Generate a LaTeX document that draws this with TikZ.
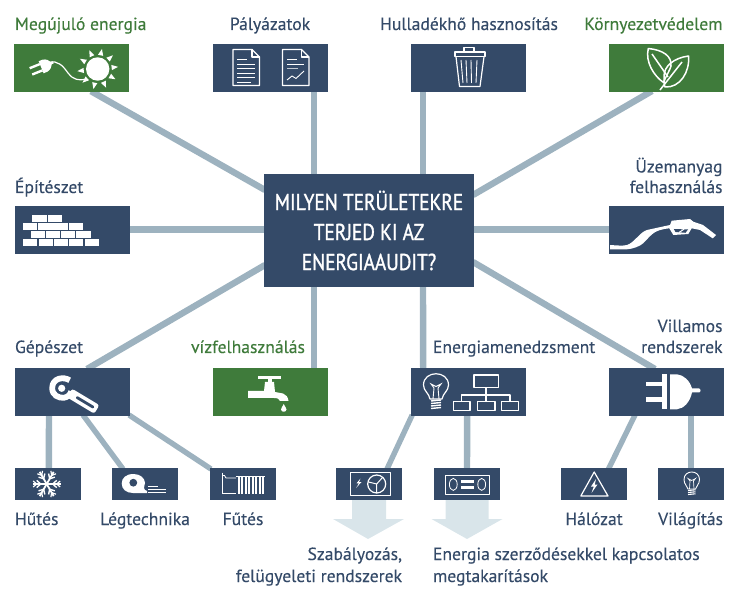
\documentclass[tikz,border=0pt]{standalone}
\usepackage{fontspec}
\setmainfont[FakeBold=0.25]{PT Sans}
\newfontfamily\hubfont[FakeStretch=0.84,FakeBold=1.3]{PT Sans}
\usetikzlibrary{calc,backgrounds}
\definecolor{navy}{HTML}{344A68}
\definecolor{leaf}{HTML}{3F7B3B}
\definecolor{linkc}{HTML}{9DB2BF}
\definecolor{pale}{HTML}{D9E5EA}
\tikzset{
  x=1pt,y=-1pt,
  tile/.style={minimum width=115,minimum height=48,inner sep=0,outer sep=0,draw=none},
  navytile/.style={tile,fill=navy},
  greentile/.style={tile,fill=leaf},
  minitile/.style={minimum width=66,minimum height=32,inner sep=0,outer sep=0,fill=navy},
  hubbox/.style={minimum width=210,minimum height=113,inner sep=0,outer sep=0,fill=navy,text=white,align=center,
    font=\hubfont\fontsize{23}{30}\selectfont},
  lab/.style={inner sep=0,outer sep=0,text=navy,font=\fontsize{17.6}{17.6}\selectfont},
  glab/.style={lab,text=leaf},
  link/.style={draw=linkc,line width=6.4},
  thinlink/.style={draw=linkc,line width=5.4},
  ico/.style={draw=white,line width=1.2,fill=none,line join=round},
  icof/.style={fill=white,draw=none},
}
\begin{document}
\begin{tikzpicture}
\useasboundingbox (0,0) rectangle (739,601);

% main tiles
\node[greentile] (mega) at (71.5,68.2) {};
\node[navytile] (palya) at (270.5,67.8) {};
\node[navytile] (hull) at (468.5,67.8) {};
\node[greentile] (korny) at (666.5,68) {};
\node[navytile] (epit) at (72.5,230.2) {};
\node[navytile] (uzem) at (666.5,230.2) {};
\node[navytile] (gep) at (72.5,392) {};
\node[greentile] (viz) at (270.5,392) {};
\node[navytile] (emen) at (468.7,392) {};
\node[navytile] (vill) at (666.5,392) {};
\node[hubbox] (hub) at (369,230.5) {MILYEN TERÜLETEKRE\\TERJED KI AZ\\ENERGIAAUDIT?};

% secondary tiles
\node[minitile] (hut) at (47.8,484) {};
\node[minitile] (leg) at (145,484) {};
\node[minitile] (fut) at (243,484) {};
\node[minitile] (szab) at (369,484) {};
\node[minitile] (szerz) at (466.5,484) {};
\node[minitile] (hal) at (593.5,484) {};
\node[minitile] (vil) at (691,484) {};

% connectors and pale arrows run behind the tiles
\begin{pgfonlayer}{background}
\draw[link] ($(mega.south west)+(77,-1)$) -- ($(hub.north west)+(1,16)$);
\draw[link] ($(palya.south west)+(101,-1)$) -- ($(hub.north west)+(50,1)$);
\draw[link] ($(hull.south west)+(12,-1)$) -- ($(hub.north west)+(159,1)$);
\draw[link] ($(korny.south west)+(43,-1)$) -- ($(hub.north east)+(-1,21)$);
\draw[link] ($(epit.east)+(-1,-.7)$) -- ($(hub.west)+(1,-1)$);
\draw[link] ($(uzem.west)+(1,-.7)$) -- ($(hub.east)+(-1,-1)$);
\draw[link] ($(gep.north west)+(72,1)$) -- ($(hub.south west)+(1,-22)$);
\draw[link] ($(viz.north west)+(101,1)$) -- ($(hub.south west)+(50,-1)$);
\draw[link] ($(emen.north west)+(12,1)$) -- ($(hub.south west)+(159,-1)$);
\draw[link] ($(vill.north west)+(46,1)$) -- ($(hub.south east)+(-1,-25)$);
\draw[link] ($(gep.south west)+(34,-1)$) -- ($(hut.north west)+(34,1)$);
\draw[thinlink] ($(gep.south west)+(68,-1)$) -- ($(leg.north west)+(11,1)$);
\draw[thinlink] ($(gep.south east)+(-1,-1)$) -- ($(fut.north west)+(1,1)$);
\draw[thinlink] ($(emen.south west)+(1,-1)$) -- ($(szab.north west)+(51,1)$);
\draw[link] ($(emen.south west)+(56,-1)$) -- ($(szerz.north west)+(33.5,1)$);
\draw[thinlink] ($(vill.south west)+(26,-1)$) -- ($(hal.north west)+(48,1)$);
\draw[link] ($(vill.south west)+(82,-1)$) -- ($(vil.north west)+(33,1)$);
\fill[pale] ($(szab.south)+(-17,-1)$) -- ($(szab.south)+(17,-1)$) -- ($(szab.south)+(17,19)$) -- ($(szab.south)+(35,19)$)
  -- ($(szab.south)+(-1,39)$) -- ($(szab.south)+(-36,19)$) -- ($(szab.south)+(-17,19)$) -- cycle;
\fill[pale] ($(szerz.south)+(-21,-1)$) -- ($(szerz.south)+(22,-1)$) -- ($(szerz.south)+(22,19)$) -- ($(szerz.south)+(36,19)$)
  -- ($(szerz.south)+(0.5,39)$) -- ($(szerz.south)+(-35,19)$) -- ($(szerz.south)+(-21,19)$) -- cycle;
\end{pgfonlayer}

% labels
\node[glab,anchor=base west] (t1) at (15,30) {Megújuló energia};
\node[lab,anchor=base] (t2) at (270,30) {Pályázatok};
\node[lab,anchor=base] (t3) at (469,30) {Hulladékhő hasznosítás};
\node[glab,anchor=base east] (t4) at (722.5,30) {Környezetvédelem};
\node[lab,anchor=base west] (t5) at (15,193) {Építészet};
\node[lab,anchor=base east] (t6) at (722.5,172.5) {Üzemanyag};
\node[lab,anchor=base east] (t7) at (722.5,193) {felhasználás};
\node[lab,anchor=base west] (t8) at (15,353) {Gépészet};
\node[glab,anchor=base] (t9) at (248,353) {vízfelhasználás};
\node[lab,anchor=base west] (t10) at (433,353) {Energiamenedzsment};
\node[lab,anchor=base east] (t11) at (722.5,332) {Villamos};
\node[lab,anchor=base east] (t12) at (722.5,353) {rendszerek};
\node[lab,anchor=base west] (t13) at (15,525) {Hűtés};
\node[lab,anchor=base] (t14) at (145,525) {Légtechnika};
\node[lab,anchor=base] (t15) at (243,525) {Fűtés};
\node[lab,anchor=base] (t16) at (594,525) {Hálózat};
\node[lab,anchor=base east] (t17) at (723,525) {Világítás};
\node[lab,anchor=base east] (t18) at (402,560) {Szabályozás,};
\node[lab,anchor=base east] (t19) at (402,582) {felügyeleti rendszerek};
\node[lab,anchor=base west] (t20) at (433,560) {Energia szerződésekkel kapcsolatos};
\node[lab,anchor=base west] (t21) at (433,582) {megtakarítások};

% --- plug and sun ---
\fill[white] (97.7,69) circle (11.7);
\foreach \a in {0,36,...,324} {
  \fill[white,shift={(97.7,69)},rotate=\a+6] (14,-2.6) -- (20.5,0) -- (14,2.6) -- cycle;
}
\draw[white,line width=1.2] (49,62.5) .. controls (58,60) and (63,66) .. (68,73)
  .. controls (72,79) and (78,81) .. (87,79);
\begin{scope}[shift={(43,66.5)},rotate=22]
  \fill[white] (-2,-6.5) -- (2,-6.5) .. controls (6,-6) and (8,-3) .. (9,-1.2) -- (11,-1.2) -- (11,1.2) -- (9,1.2)
    .. controls (8,3) and (6,6) .. (2,6.5) -- (-2,6.5) -- cycle;
  \fill[white] (-13,-4.6) rectangle (-2,-2.2);
  \fill[white] (-13,2.2) rectangle (-2,4.6);
\end{scope}

% --- two documents ---
\draw[ico] (233,49.5) -- (252,49.5) -- (259.5,57) -- (259.5,85.5) -- (233,85.5) -- cycle;
\draw[ico] (252,49.5) -- (252,57) -- (259.5,57);
\draw[white,line width=.9] (237,59) -- (247,59);
\foreach \y in {64,68.5,73,77.5} \draw[white,line width=.9] (237,\y) -- (255,\y);
\draw[white,line width=.9] (237,82) -- (251,82);
\draw[ico] (282.5,49.5) -- (301.5,49.5) -- (309,57) -- (309,85.5) -- (282.5,85.5) -- cycle;
\draw[ico] (301.5,49.5) -- (301.5,57) -- (309,57);
\draw[white,line width=.9] (287,59) -- (297,59);
\draw[white,line width=.9] (287,64) -- (304,64);
\draw[white!70!navy,line width=.9] (287,68.5) -- (298,68.5);
\draw[white,line width=.9] (287,80) -- (292,76) -- (296,78.5) -- (304,71);

% --- waste bin ---
\draw[ico] (455,56.7) -- (455,52) -- (485,52) -- (485,56.7) -- cycle;
\draw[ico] (464,52) -- (464,47.7) -- (474,47.7) -- (474,52);
\draw[ico] (456,56.7) -- (459.5,86.5) -- (480,86.5) -- (484,56.7);
\foreach \xa/\xb in {461/463,466/467,471/471.5,477/476} \draw[white,line width=.9] (\xa,60) -- (\xb,83);

% --- two leaves ---
\draw[ico,line width=1.5] (648.3,48.5) .. controls (663,50) and (672,56) .. (671,66) .. controls (670,70) and (667,74) .. (663.5,82.5)
  .. controls (654,76) and (645,62) .. (648.3,48.5) -- cycle;
\draw[ico,line width=1.5] (652,54) -- (668,77);
\draw[ico,line width=1.5] (688.5,56) .. controls (674,58) and (664,66) .. (664,76) .. controls (664,81) and (664,85) .. (665,87)
  .. controls (680,88) and (690,72) .. (688.5,56) -- cycle;
\draw[ico,line width=1.5] (660,90) -- (682,62);

% --- bricks ---
\foreach \xa/\xb/\ya/\yb in {
  32/47/215.3/222, 48/62/215.3/222,
  22.7/37.3/223/230, 38/52.7/223/230, 53.3/68/223/230, 68.7/83.3/223/230,
  30.7/44.7/231/238, 45.7/60/231/238, 61/75.3/231/238, 76.3/90.7/231/238,
  22.7/37.3/239/246, 38.7/52.7/239/246, 54/68/239/246, 69.3/83.3/239/246, 84.7/99/239/246}
  \fill[white] (\xa,\ya) rectangle (\xb,\yb);

% --- fuel nozzle and hose ---
\fill[white] (610,245) .. controls (618,245.5) and (623,246) .. (627,245)
  .. controls (634,243) and (640,232) .. (647,230)
  -- (670,225) -- (671.7,220.7) -- (690,219) -- (693.3,221.7) -- (703,225) -- (716,235) -- (712.7,238.3)
  -- (700,230) -- (691.7,228.3) -- (688.3,234) -- (673.3,235) -- (669.3,228.3)
  .. controls (662,229) and (656,231) .. (653.3,233.3)
  .. controls (648,237) and (645,243) .. (640,245.5)
  .. controls (634,248.5) and (630,249) .. (627,249.3) -- (610,249.3) -- cycle;
\fill[navy] (673.8,229) -- (688,229.5) -- (685.5,232.8) -- (675.5,232) -- cycle;
\draw[white,line width=1] (679,232.5) -- (684,229.2);

% --- wrench ---
\begin{scope}[shift={(61.7,388.3)}]
  \draw[white,line width=5.8] (8,-8) .. controls (2,-12) and (-9.5,-10.5) .. (-9.5,0)
    .. controls (-9.5,7) and (-3,9.8) .. (2,9.5) .. controls (6,9) and (9,6) .. (9.5,3);
  \fill[white] (0,0) circle (3.6);
  \begin{scope}[rotate=-31]
    \fill[white,rounded corners=2.5] (9,-5) rectangle (41,5);
    \fill[navy,rounded corners=1] (17,-1.4) rectangle (37.5,1.4);
  \end{scope}
\end{scope}

% --- tap ---
\fill[white] (257.7,376) rectangle (281,378.7);
\fill[white] (268,376) rectangle (272,383);
\fill[white] (265,382) -- (274,382) -- (275,392) -- (283,393.5) .. controls (286,394.5) and (288,397) .. (288.5,401)
  -- (280,401) .. controls (279,399) and (278,398) .. (274,398) -- (248,398) -- (248,391) -- (264,391) -- cycle;
\fill[white] (283.7,404) .. controls (285,407) and (286.5,408) .. (286.5,409.5)
  .. controls (286.5,412.5) and (281,412.5) .. (281,409.5) .. controls (281,408) and (282.5,407) .. (283.7,404) -- cycle;

% --- light bulb and organisation chart ---
\draw[ico] (430,399) .. controls (429,393) and (423.5,391) .. (423.5,385) .. controls (423.5,370) and (448.5,370) .. (448.5,385)
  .. controls (448.5,391) and (443,393) .. (442,399) -- cycle;
\draw[white,line width=.9] (433,399) -- (434,388) -- (431,384) -- (436,386.5) -- (441,384) -- (438,388) -- (439,399);
\foreach \y in {401,403.5,406,408.5} \draw[white,line width=1.4] (431,\y) -- (441,\y-1);
\draw[ico] (474,375) rectangle (498.3,387.7);
\draw[ico] (486,387.7) -- (486,401.7);
\draw[ico] (461.5,401.7) -- (461.5,395) -- (510,395) -- (510,401.7);
\draw[ico] (453.3,401.7) rectangle (470,410.7);
\draw[ico] (477.5,401.7) rectangle (495,410.7);
\draw[ico] (501.7,401.7) rectangle (518.3,410.7);

% --- mains plug ---
\fill[white] (646,381.7) rectangle (661.7,386);
\fill[white] (646,396.7) rectangle (661.7,401.7);
\fill[white] (662.3,374.3) rectangle (667.3,409.3);
\fill[white] (670,374.3) -- (677,374.3) .. controls (684,375) and (690,381) .. (692,388.5) -- (699,388.5)
  .. controls (701,388.5) and (701,392.5) .. (699,392.5) -- (692,392.5)
  .. controls (690,402) and (684,408.5) .. (677,409.3) -- (670,409.3) -- cycle;

% --- snowflake ---
\begin{scope}[shift={(46.7,484)}]
  \foreach \a in {0,60,...,300} {
    \begin{scope}[rotate=\a]
      \draw[white,line width=1.8] (0,0) -- (14,0);
      \draw[white,line width=1.4] (6,0) -- (10,-3.6) (6,0) -- (10,3.6);
      \draw[white,line width=1.2] (10,0) -- (13.5,-3) (10,0) -- (13.5,3);
    \end{scope}
  }
\end{scope}

% --- fan housing and air lines ---
\fill[white] (133.5,474) .. controls (126,474) and (121.7,478) .. (121.7,483.5)
  .. controls (121.7,489) and (126,493) .. (133,493) -- (147,493) -- (147,491) .. controls (143,490) and (144,487) .. (145,483)
  .. controls (145,478) and (140,474) .. (133.5,474) -- cycle;
\fill[navy] (133.3,482.7) circle (3.9);
\draw[white,line width=.9] (148,486) -- (158,486);
\draw[white,line width=.9] (148,489) -- (165.7,489);
\draw[white,line width=.9] (148,492) -- (165.7,492);

% --- radiator ---
\draw[white,line width=.8] (222.3,472.5) -- (222.3,493.5) -- (236,493.5);
\draw[white,line width=.8] (222.3,475.5) -- (224.5,475.5) -- (226,478) -- (236,478);
\foreach \x in {237.5,241,244.5,248,251.5,255,258.5,262}
  \fill[white] (\x,476) rectangle (\x+2.3,494);
\draw[white,line width=.7] (236,476.5) -- (265,476.5);

% --- control panel with gauge ---
\draw[ico,line width=.9] (350,472.7) rectangle (390,495.3);
\fill[white] (360.5,478.5) -- (356.5,483.3) -- (359,483.3) -- (356,488) -- (361.5,482) -- (359,482) -- cycle;
\draw[ico] (376.7,484) circle (9);
\draw[white,line width=1] (376.7,484) -- (368.5,482) (376.7,484) -- (382.5,477.5) (376.7,484) -- (376.7,493);

% --- contract panel ---
\draw[ico,line width=.9] (445.7,475) rectangle (489,494);
\draw[white,line width=.8] (453.3,484.4) ellipse (3.9 and 6);
\draw[white,line width=.8] (481.7,484.4) ellipse (3.9 and 6);
\fill[white] (461,480) rectangle (474.3,483);
\fill[white] (461,486) rectangle (474.3,489);

% --- warning triangle ---
\draw[ico,line width=1.2] (594.2,472) -- (608,496) -- (580.8,496) -- cycle;
\fill[white] (596,479) -- (591,486.5) -- (593.8,486.5) -- (591.5,493) -- (597.5,484.5) -- (594.8,484.5) -- cycle;

% --- small bulb ---
\draw[ico,line width=.9] (688,489) .. controls (687.5,486) and (684,484.5) .. (684,479.5)
  .. controls (684,469.5) and (699.5,469.5) .. (699.5,479.5) .. controls (699.5,484.5) and (696,486) .. (695.5,489) -- cycle;
\draw[white,line width=.7] (689.5,489) -- (690,481) -- (688,478.5) -- (691.7,480.5) -- (695.5,478.5) -- (693.5,481) -- (694,489);
\foreach \y in {490.5,492.5,494.5} \draw[white,line width=1.1] (688,\y) -- (695.5,\y-.7);
\end{tikzpicture}
\end{document}
